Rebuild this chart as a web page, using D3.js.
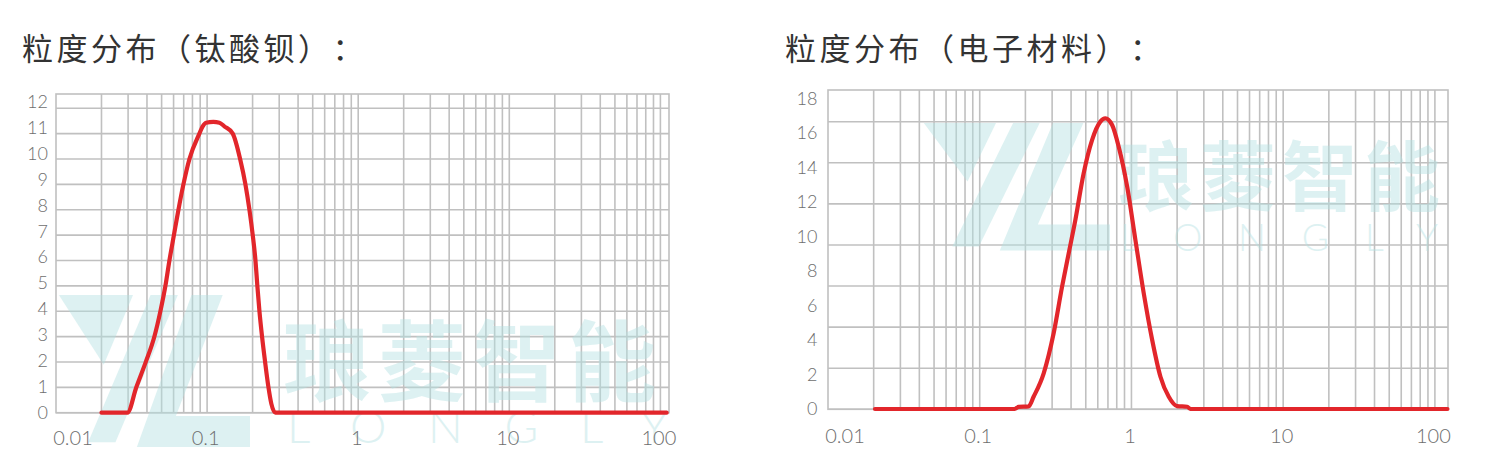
<!DOCTYPE html>
<html><head><meta charset="utf-8">
<script src="https://cdnjs.cloudflare.com/ajax/libs/d3/7.8.5/d3.min.js"></script>
<style>
html,body{margin:0;padding:0;background:#fff;}
svg{display:block;}
.title{text-spacing-trim:space-all;font-kerning:none;}
</style></head>
<body>
<svg id="chart" width="1502" height="465"></svg>
<script>
// ---------- DATA ----------
const leftTitle = "粒度分布（钛酸钡）：";
const rightTitle = "粒度分布（电子材料）：";
const xTickValues = [0.01, 0.1, 1, 10, 100];
const xTickLabels = ["0.01", "0.1", "1", "10", "100"];
const leftYTicks = [0,1,2,3,4,5,6,7,8,9,10,11,12];
const rightYTicks = [0,2,4,6,8,10,12,14,16,18];
const leftGridRows = [0,1,2,3,4,5,6,7,8,9,10,11,12];
const rightGridRows = [0,1,2,3,4,5,6,7];

// 钛酸钡 particle size (µm) vs frequency (%)
const leftSizes = [0.02,0.0297,0.034,0.0393,0.0448,0.0491,0.053,0.0563,0.0603,0.0646,0.0697,0.0764,0.0889,0.0935,0.0984,0.11,0.1206,0.13,0.1478,0.1654,0.1793,0.1906,0.2005,0.209,0.215,0.222,0.231,0.242,0.2547,0.266,0.283,110];
const leftFreq  = [0,0,0.98,1.96,2.94,3.92,4.9,5.87,6.85,7.83,8.81,9.79,10.77,11.05,11.19,11.22,11.19,11.05,10.77,9.79,8.81,7.83,6.85,5.87,4.9,3.92,2.94,1.96,0.98,0.35,0,0];
// 电子材料
const rightSizes = [0.0204,0.17,0.18,0.21,0.2265,0.264,0.307,0.349,0.386,0.427,0.484,0.55,0.624,0.673,0.746,0.824,0.937,1.062,1.205,1.37,1.553,1.762,2.0,2.33,2.45,121];
const rightFreq  = [0,0,0.12,0.15,0.71,2.07,4.39,7.09,9.03,10.96,13.66,15.59,16.66,16.85,16.46,15.2,12.89,9.8,6.71,4.0,1.87,0.71,0.17,0.13,0,0];

const watermarkCN = "琅菱智能";
const watermarkEN = "LONGLY";

// ---------- DRAW ----------
const svg = d3.select("#chart");
const GRID = "#c0c0c0";
const RED = "#e2262b";
const WM = "#b4e2e3";

// logo polygons in a unit box
const logoPolys = [
  [[0.02,0],[0.40,0],[0.25,0.45]],
  [[0.49,0],[0.63,0],[0.31,0.95],[0.17,0.95]],
  [[0.70,0],[0.86,0],[0.62,0.78],[1.0,0.78],[1.0,0.98],[0.42,0.98]]
];

function drawChart(cfg) {
  const g = svg.append("g");
  const x = d3.scaleLog().domain(cfg.xDomain).range(cfg.xRange);
  const yGrid = d3.scaleLinear().domain(cfg.gridDomain).range(cfg.gridRange);
  const y = d3.scaleLinear().domain(cfg.yDomain).range(cfg.yRange);
  const top = cfg.top, bottom = yGrid(0);

  // title
  g.append("text").attr("class", "title").attr("x", cfg.titleX).attr("y", 46)
    .attr("dominant-baseline", "central")
    .style("font-family", "'Noto Sans CJK SC', sans-serif")
    .style("font-size", "31px").style("letter-spacing", "3.5px").style("fill", "#333")
    .text(cfg.title);

  // vertical grid
  const vt = x.ticks().filter(v => v > cfg.xDomain[0] * 1.001 && v < cfg.xDomain[1]);
  g.append("g").selectAll("line").data(vt).join("line")
    .attr("x1", d => x(d)).attr("x2", d => x(d))
    .attr("y1", top).attr("y2", bottom)
    .attr("stroke", GRID).attr("stroke-width", 1.6);
  // horizontal grid
  g.append("g").selectAll("line").data(cfg.gridRows).join("line")
    .attr("x1", cfg.xRange[0]).attr("x2", cfg.xRange[1])
    .attr("y1", d => yGrid(d)).attr("y2", d => yGrid(d))
    .attr("stroke", GRID).attr("stroke-width", 1.6);
  // frame
  g.append("rect").attr("x", cfg.xRange[0]).attr("y", top)
    .attr("width", cfg.xRange[1] - cfg.xRange[0]).attr("height", bottom - top)
    .attr("fill", "none").attr("stroke", GRID).attr("stroke-width", 1.6);

  // watermark
  const wm = g.append("g").attr("opacity", 0.45);
  const lb = cfg.logo;
  logoPolys.forEach(p => {
    wm.append("polygon")
      .attr("points", p.map(q => [lb.x + q[0] * lb.w, lb.y + q[1] * lb.h].join(",")).join(" "))
      .attr("fill", WM);
  });
  wm.append("text").attr("x", cfg.wmCN.x).attr("y", cfg.wmCN.y)
    .style("font-family", "'Noto Sans CJK SC', sans-serif")
    .style("font-weight", "bold").style("font-size", cfg.wmCN.size + "px")
    .style("letter-spacing", cfg.wmCN.ls + "px")
    .attr("fill", WM).text(watermarkCN);
  wm.append("text").attr("x", cfg.wmEN.x).attr("y", cfg.wmEN.y)
    .attr("textLength", cfg.wmEN.len).attr("lengthAdjust", "spacing")
    .style("font-family", "Lato, sans-serif").style("font-weight", 300)
    .style("font-size", cfg.wmEN.size + "px")
    .attr("fill", WM).text(watermarkEN);

  // y axis labels
  const ya = g.append("g").attr("transform", `translate(${cfg.xRange[0]},0)`)
    .call(d3.axisLeft(y).tickValues(cfg.yTicks).tickSize(0).tickPadding(cfg.yPad).tickFormat(d3.format("d")));
  ya.select(".domain").remove();
  ya.selectAll("text").style("font-family", "Lato, sans-serif").style("font-weight", 300)
    .style("font-size", "18px").attr("fill", "#6e6e6e");

  // x axis labels
  const xa = g.append("g").attr("transform", `translate(0,${cfg.xLabelY})`)
    .call(d3.axisBottom(x).tickValues(xTickValues).tickSize(0)
      .tickFormat((d, i) => xTickLabels[i]));
  xa.select(".domain").remove();
  xa.selectAll("text").attr("y", 0).attr("dy", "0.35em")
    .attr("dx", (d, i) => i === 0 ? 16.5 : -2)
    .style("font-family", "Lato, sans-serif").style("font-weight", 300)
    .style("font-size", "20px").attr("fill", "#6e6e6e");

  // curve
  const pts = cfg.sizes.map((s, i) => [s, cfg.freq[i]]);
  const line = d3.line().x(d => x(d[0])).y(d => y(d[1])).curve(d3.curveMonotoneX);
  g.append("path").datum(pts).attr("d", line)
    .attr("fill", "none").attr("stroke", RED).attr("stroke-width", 4.2)
    .attr("stroke-linejoin", "round").attr("stroke-linecap", "round");
}

drawChart({
  title: leftTitle, titleX: 22,
  xDomain: [0.01, 114], xRange: [56, 669],
  gridDomain: [0, 12], gridRange: [412.7, 108.3], gridRows: leftGridRows, top: 94,
  yDomain: [0, 12], yRange: [412.7, 101.7], yTicks: leftYTicks, yPad: 8,
  xLabelY: 438,
  sizes: leftSizes, freq: leftFreq,
  logo: {x: 55, y: 295, w: 195, h: 155},
  wmCN: {x: 283, y: 394, size: 88, ls: 7},
  wmEN: {x: 287, y: 443, size: 46, len: 381}
});

drawChart({
  title: rightTitle, titleX: 785,
  xDomain: [0.01, 122], xRange: [828, 1448],
  gridDomain: [0, 7], gridRange: [409.3, 121.7], gridRows: rightGridRows, top: 90,
  yDomain: [0, 18], yRange: [409, 98.5], yTicks: rightYTicks, yPad: 10.5,
  xLabelY: 436,
  sizes: rightSizes, freq: rightFreq,
  logo: {x: 920, y: 123, w: 190, h: 130},
  wmCN: {x: 1118, y: 205, size: 76, ls: 6},
  wmEN: {x: 1120, y: 251, size: 37, len: 318}
});
</script>
</body></html>
